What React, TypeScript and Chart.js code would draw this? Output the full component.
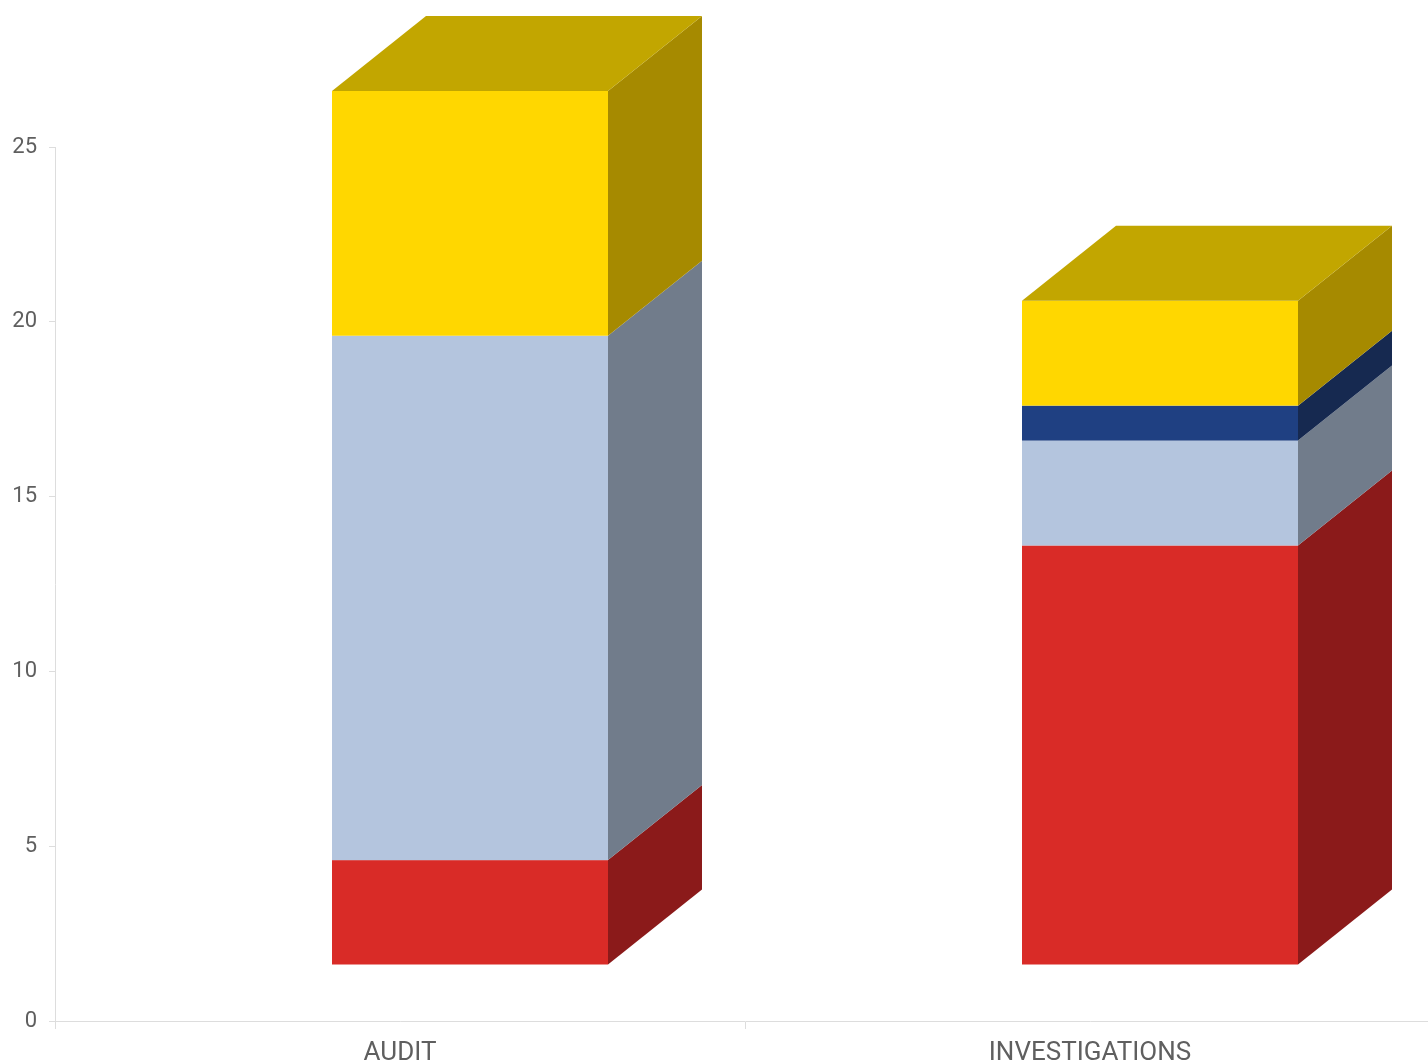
import React, { useEffect, useRef } from "react";
import { Chart, registerables } from "chart.js";

Chart.register(...registerables);

const categories = ["AUDIT", "INVESTIGATIONS"];
const seriesNames = ["Series 1", "Series 2", "Series 3", "Series 4"];
const redValues = [3, 12];
const lightBlueValues = [15, 3];
const darkBlueValues = [0, 1];
const yellowValues = [7, 3];
const yTickMax = 25;
const yTickStep = 5;

const frontColors = ["#D92B27", "#B4C5DE", "#1F4082", "#FFD700"];
const sideColors = ["#8B1A1A", "#717C8B", "#162950", "#A68A00"];
const topColors = ["#8B1A1A", "#8E9CB0", "#18336A", "#C2A600"];

const SHIFT_X = 70;
const SHIFT_Y = -56;
const DEPTH_X = 94;
const DEPTH_Y = -75;

const bar3dPlugin = {
  id: "bar3d",
  afterDatasetsDraw(chart: any) {
    const ctx = chart.ctx;
    const nDs = chart.data.datasets.length;
    const nCat = chart.data.labels.length;
    ctx.save();
    for (let i = 0; i < nCat; i++) {
      let topIdx = -1;
      for (let d = 0; d < nDs; d++) {
        const v = chart.data.datasets[d].data[i];
        if (v && v > 0) topIdx = d;
      }
      for (let d = 0; d < nDs; d++) {
        const v = chart.data.datasets[d].data[i];
        if (!v || v <= 0) continue;
        const el: any = chart.getDatasetMeta(d).data[i];
        const left = el.x - el.width / 2 + SHIFT_X;
        const right = el.x + el.width / 2 + SHIFT_X;
        const top = el.y + SHIFT_Y;
        const bottom = el.base + SHIFT_Y;
        ctx.fillStyle = frontColors[d];
        ctx.fillRect(left, top, right - left, bottom - top);
        ctx.fillStyle = sideColors[d];
        ctx.beginPath();
        ctx.moveTo(right, top);
        ctx.lineTo(right + DEPTH_X, top + DEPTH_Y);
        ctx.lineTo(right + DEPTH_X, bottom + DEPTH_Y);
        ctx.lineTo(right, bottom);
        ctx.closePath();
        ctx.fill();
        if (d === topIdx) {
          ctx.fillStyle = topColors[d];
          ctx.beginPath();
          ctx.moveTo(left, top);
          ctx.lineTo(left + DEPTH_X, top + DEPTH_Y);
          ctx.lineTo(right + DEPTH_X, top + DEPTH_Y);
          ctx.lineTo(right, top);
          ctx.closePath();
          ctx.fill();
        }
      }
    }
    ctx.restore();
  },
};

export default function App() {
  const ref = useRef<HTMLCanvasElement | null>(null);
  useEffect(() => {
    document.body.style.overflow = "hidden";
    const canvas = ref.current;
    if (!canvas) return;
    const values = [redValues, lightBlueValues, darkBlueValues, yellowValues];
    const chart = new Chart(canvas, {
      type: "bar",
      data: {
        labels: categories,
        datasets: values.map((vals, k) => ({
          label: seriesNames[k],
          data: vals,
          backgroundColor: "rgba(0,0,0,0)",
          borderWidth: 0,
          categoryPercentage: 0.8,
          barPercentage: 0.5,
        })),
      },
      options: {
        responsive: false,
        animation: false,
        devicePixelRatio: 1,
        layout: { padding: { top: 147, right: 5, left: 0, bottom: 0 } },
        plugins: { legend: { display: false }, tooltip: { enabled: false } },
        scales: {
          x: {
            stacked: true,
            offset: true,
            afterFit(scale: any) {
              scale.height = 42;
            },
            border: { display: true, color: "#dddddd", width: 1 },
            grid: {
              display: true,
              drawOnChartArea: false,
              drawTicks: true,
              tickLength: 8,
              color: "#dddddd",
              offset: true,
            },
            ticks: {
              color: "#5f5f5f",
              padding: 9,
              font: { family: "Roboto", size: 26 },
              maxRotation: 0,
            },
          },
          y: {
            stacked: true,
            min: 0,
            max: yTickMax,
            afterFit(scale: any) {
              scale.width = 55;
            },
            border: { display: true, color: "#dddddd", width: 1 },
            grid: {
              display: true,
              drawOnChartArea: false,
              drawTicks: true,
              tickLength: 6,
              color: "#dddddd",
            },
            ticks: {
              stepSize: yTickStep,
              color: "#5f5f5f",
              padding: 12,
              font: { family: "Roboto", size: 22 },
            },
          },
        },
      },
      plugins: [bar3dPlugin],
    });
    return () => chart.destroy();
  }, []);
  return (
    <div style={{ position: "absolute", left: 0, top: 0, width: 1440, height: 1063 }}>
      <canvas ref={ref} width={1440} height={1063} style={{ display: "block" }} />
    </div>
  );
}
